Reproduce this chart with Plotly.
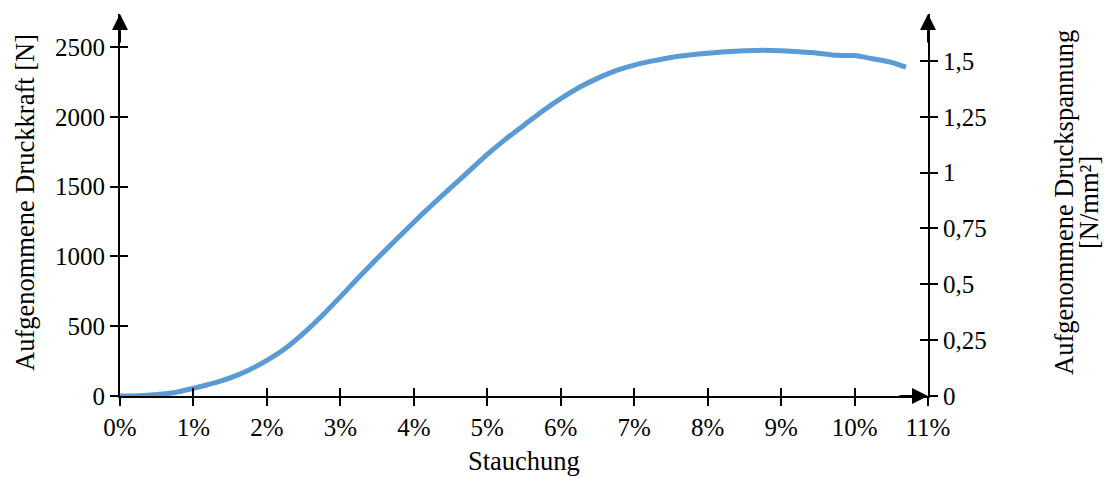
import plotly.graph_objects as go

# Stauchung (Anteil) und aufgenommene Druckkraft [N]
stauchung = [0.0, 0.0025, 0.005, 0.0075, 0.010, 0.0125, 0.015, 0.0175, 0.020, 0.0225,
             0.025, 0.0275, 0.030, 0.0325, 0.035, 0.0375, 0.040, 0.0425, 0.045, 0.0475,
             0.050, 0.0525, 0.055, 0.0575, 0.060, 0.0625, 0.065, 0.0675, 0.070, 0.0725,
             0.075, 0.0775, 0.080, 0.0825, 0.085, 0.0875, 0.090, 0.0925, 0.095, 0.0975,
             0.100, 0.1025, 0.105, 0.107]
druckkraft = [0, 2, 10, 25, 55, 88, 130, 185, 255, 340,
              450, 575, 710, 850, 985, 1115, 1245, 1370, 1490, 1610,
              1730, 1840, 1940, 2040, 2130, 2210, 2275, 2330, 2370, 2400,
              2425, 2442, 2455, 2465, 2472, 2476, 2472, 2465, 2455, 2440,
              2438, 2415, 2390, 2355]

x_ticks = [i / 100 for i in range(12)]
x_ticktext = [f"{i}%" for i in range(12)]
y_ticks = [0, 500, 1000, 1500, 2000, 2500]
y2_ticks = [0, 0.25, 0.5, 0.75, 1, 1.25, 1.5]
y2_ticktext = ["0", "0,25", "0,5", "0,75", "1", "1,25", "1,5"]

X_RANGE = [0, 0.11]
Y_RANGE = [0, 2736]
Y2_RANGE = [0, 1.71]

FONT = "Liberation Serif, Times New Roman, serif"
FS = 25
FS_TITLE = 26.5
BLACK = "#000000"

fig = go.Figure()
fig.add_trace(go.Scatter(
    x=stauchung, y=druckkraft, mode="lines",
    line=dict(color="#5B9BD5", width=5, shape="spline", smoothing=0.5),
    showlegend=False, hoverinfo="skip",
))

axis_common = dict(showgrid=False, zeroline=False, linecolor=BLACK, linewidth=2,
                   tickcolor=BLACK, tickwidth=2, ticklen=8,
                   tickfont=dict(family=FONT, size=FS, color=BLACK))

fig.update_layout(
    width=1104, height=477,
    margin=dict(l=120, r=176, t=14, b=81),
    paper_bgcolor="white", plot_bgcolor="white",
    font=dict(family=FONT, size=FS, color=BLACK),
    xaxis=dict(range=X_RANGE, tickvals=x_ticks, ticktext=x_ticktext,
               showline=True, ticks="outside", **axis_common),
    yaxis=dict(range=Y_RANGE, tickvals=y_ticks, showline=True, ticks="outside",
               **axis_common),
    yaxis2=dict(range=Y2_RANGE, tickvals=y2_ticks, ticktext=y2_ticktext,
                overlaying="y", side="right", anchor="x", showline=True,
                ticks="outside", **axis_common),
    # inner halves of the crossing tick marks
    xaxis2=dict(range=X_RANGE, tickvals=x_ticks, overlaying="x", anchor="y",
                side="bottom", showline=False, ticks="inside", showticklabels=False,
                **axis_common),
    yaxis3=dict(range=Y_RANGE, tickvals=y_ticks, overlaying="y", anchor="x",
                side="left", showline=False, ticks="inside", showticklabels=False,
                **axis_common),
    yaxis4=dict(range=Y2_RANGE, tickvals=y2_ticks, overlaying="y", anchor="x",
                side="right", showline=False, ticks="inside", showticklabels=False,
                **axis_common),
)

# invisible traces so the helper axes get drawn
fig.add_trace(go.Scatter(x=[None], y=[None], xaxis="x2", yaxis="y", showlegend=False))
fig.add_trace(go.Scatter(x=[None], y=[None], xaxis="x", yaxis="y2", showlegend=False))
fig.add_trace(go.Scatter(x=[None], y=[None], xaxis="x", yaxis="y3", showlegend=False))
fig.add_trace(go.Scatter(x=[None], y=[None], xaxis="x", yaxis="y4", showlegend=False))

# arrow heads at the axis ends
arrow = dict(showarrow=True, arrowhead=2, arrowsize=1.6, arrowwidth=2,
             arrowcolor=BLACK, text="")
fig.add_annotation(x=0, y=1, xref="x domain", yref="y domain", ax=0, ay=30, **arrow)
fig.add_annotation(x=1, y=1, xref="x domain", yref="y domain", ax=0, ay=30, **arrow)
fig.add_annotation(x=1, y=0, xref="x domain", yref="y domain", ax=-30, ay=0, **arrow)

# axis titles (positions in pixels, converted below)
title_font = dict(family=FONT, size=FS_TITLE, color=BLACK)
fig.add_annotation(x=25, y=203, text="Aufgenommene Druckkraft [N]",
                   textangle=-90, font=title_font)
fig.add_annotation(x=1064, y=203, text="Aufgenommene Druckspannung",
                   textangle=-90, font=title_font)
fig.add_annotation(x=1089, y=203, text="[N/mm²]",
                   textangle=-90, font=title_font)
fig.add_annotation(x=524, y=461, text="Stauchung", font=title_font)

W, H = 1104, 477
L, R, T, B = 120, 176, 14, 81
pw, ph = W - L - R, H - T - B
for ann in fig.layout.annotations[3:]:
    ann.update(xref="paper", yref="paper", showarrow=False,
               xanchor="center", yanchor="middle",
               x=(ann.x - L) / pw, y=1 - (ann.y - T) / ph)

fig.write_html("out.html")
